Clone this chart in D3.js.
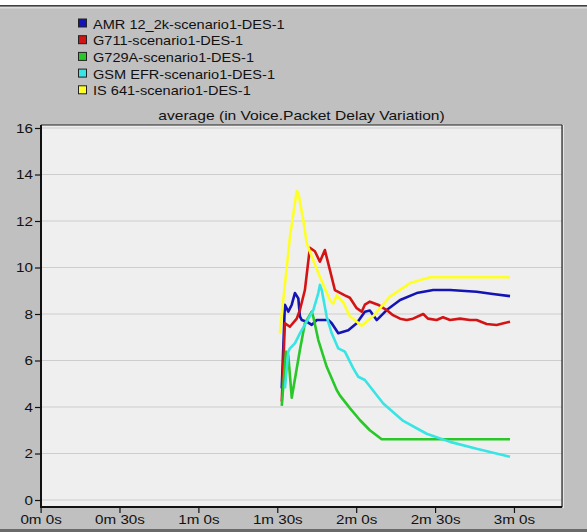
<!DOCTYPE html>
<html>
<head>
<meta charset="utf-8">
<script src="https://cdn.jsdelivr.net/npm/d3@7"></script>
<style>
  body { margin: 0; background: #c0c0c0; }
  svg { display: block; font-family: Arial, "Liberation Sans", sans-serif; }
</style>
</head>
<body>
<div id="chart"></div>
<script>
// series names + colours (legend order)
var seriesNames = ["AMR 12_2k-scenario1-DES-1", "G711-scenario1-DES-1", "G729A-scenario1-DES-1", "GSM EFR-scenario1-DES-1", "IS 641-scenario1-DES-1"]
var seriesColors = ["#1414b4", "#d41414", "#28c828", "#38e4e4", "#ffff28"]

// time in seconds
var amrTime = [91.7, 92.9, 94.2, 95.5, 96.7, 98.0, 98.6, 99.3, 101.2, 103.1, 105.0, 107.5, 109.4, 110.7, 113.2, 115.1, 117.0, 120.2, 123.3, 125.2, 127.8, 131.6, 136.7, 143.0, 149.3, 155.7, 165.8, 172.0, 178.5]
var amrValue = [4.8, 8.4, 8.1, 8.4, 8.9, 8.67, 7.9, 7.74, 7.67, 7.53, 7.74, 7.74, 7.74, 7.6, 7.17, 7.24, 7.3, 7.6, 8.1, 8.15, 7.74, 8.17, 8.6, 8.9, 9.03, 9.03, 8.96, 8.86, 8.77]

var g711Time = [91.7, 92.9, 94.8, 97.4, 98.6, 100.5, 102.4, 104.3, 106.2, 108.1, 110.0, 111.9, 115.7, 117.6, 120.2, 122.1, 123.3, 125.2, 128.3, 131.6, 134.0, 136.7, 139.2, 141.6, 145.5, 147.3, 150.6, 153.0, 155.7, 159.5, 163.3, 165.8, 169.6, 173.4, 177.2, 178.5]
var g711Value = [4.23, 7.6, 7.45, 7.8, 8.17, 9.03, 10.85, 10.7, 10.25, 10.75, 9.9, 9.03, 8.8, 8.7, 8.25, 8.1, 8.4, 8.53, 8.4, 8.17, 7.95, 7.8, 7.74, 7.8, 8.0, 7.8, 7.74, 7.86, 7.74, 7.8, 7.74, 7.74, 7.57, 7.53, 7.63, 7.67]

var g729Time = [91.7, 93.3, 94.2, 95.5, 98.6, 100.5, 103.1, 103.7, 105.6, 108.8, 112.6, 113.8, 117.6, 121.4, 125.2, 129.7, 178.5]
var g729Value = [4.05, 6.38, 6.2, 4.4, 6.45, 7.6, 8.1, 7.88, 6.88, 5.73, 4.73, 4.5, 3.95, 3.44, 3.0, 2.61, 2.61]

var gsmTime = [92.9, 94.2, 94.8, 96.7, 98.6, 101.2, 103.7, 105.6, 106.2, 106.9, 108.8, 110.7, 113.2, 115.7, 118.9, 120.8, 123.3, 130.3, 137.9, 146.8, 155.7, 165.8, 178.5]
var gsmValue = [4.8, 6.38, 6.52, 6.74, 7.17, 7.67, 8.17, 8.9, 9.25, 9.03, 7.88, 7.17, 6.52, 6.38, 5.66, 5.3, 5.16, 4.15, 3.4, 2.85, 2.5, 2.2, 1.86]

var is641Time = [91.0, 91.9, 94.8, 97.4, 98.0, 99.9, 101.2, 103.7, 106.2, 110.0, 111.3, 112.6, 115.1, 117.6, 122.1, 126.4, 132.8, 140.5, 148.1, 160.0, 178.5]
var is641Value = [7.17, 8.2, 11.3, 13.3, 13.2, 12.04, 11.04, 10.3, 9.6, 8.6, 8.45, 8.8, 8.5, 7.9, 7.5, 7.9, 8.75, 9.33, 9.58, 9.58, 9.58]

var yTicks = [0, 2, 4, 6, 8, 10, 12, 14, 16]
var xTicks = [0, 30, 60, 90, 120, 150, 180]
var xTickLabels = ["0m 0s", "0m 30s", "1m 0s", "1m 30s", "2m 0s", "2m 30s", "3m 0s"]
var chartTitle = "average (in Voice.Packet Delay Variation)"

var seriesData = [
    d3.zip(amrTime, amrValue),
    d3.zip(g711Time, g711Value),
    d3.zip(g729Time, g729Value),
    d3.zip(gsmTime, gsmValue),
    d3.zip(is641Time, is641Value)
]

var dimensions = {
    width: 587,
    height: 532,
    plot: {left: 41, right: 562, top: 125, bottom: 507},
    stretch: 1.17   // the screenshot's text is a bit wider than plain Arial
}

var svg = d3.select("#chart")
    .append("svg")
    .attr("width", dimensions.width)
    .attr("height", dimensions.height)

// window background + top strip
svg.append("rect").attr("width", dimensions.width).attr("height", dimensions.height).attr("fill", "#c0c0c0")
svg.append("rect").attr("width", dimensions.width).attr("height", 5).attr("fill", "#ffffff")
svg.append("rect").attr("y", 5).attr("width", dimensions.width).attr("height", 1.5).attr("fill", "#404040")
svg.append("rect").attr("y", 7).attr("width", dimensions.width).attr("height", 1.5).attr("fill", "#dcdcdc")
svg.append("rect").attr("y", 529).attr("width", dimensions.width).attr("height", 3).attr("fill", "#6a6a6a")

var p = dimensions.plot
var x = d3.scaleLinear().domain([0, 198]).range([40.6, 561.3])
var y = d3.scaleLinear().domain([0, 16]).range([500, 128])

// plot area
svg.append("rect")
    .attr("x", p.left).attr("y", p.top)
    .attr("width", p.right - p.left).attr("height", p.bottom - p.top)
    .attr("fill", "#efefef")

// grid lines
svg.append("g")
    .selectAll("line")
    .data(yTicks)
    .enter()
    .append("line")
    .attr("x1", p.left).attr("x2", p.right)
    .attr("y1", d => y(d)).attr("y2", d => y(d))
    .attr("stroke", "#cdcdcd")
    .attr("stroke-width", 1.2)

// lines
var line = d3.line()
    .x(d => x(d[0]))
    .y(d => y(d[1]))

svg.append("g")
    .selectAll("path")
    .data(seriesData)
    .enter()
    .append("path")
    .attr("d", line)
    .attr("fill", "none")
    .attr("stroke", (_, i) => seriesColors[i])
    .attr("stroke-width", 2.6)
    .attr("stroke-linejoin", "round")

// frame
svg.append("line").attr("x1", p.left).attr("x2", p.right).attr("y1", p.top).attr("y2", p.top).attr("stroke", "#222").attr("stroke-width", 1.2)
svg.append("line").attr("x1", p.right).attr("x2", p.right).attr("y1", p.top).attr("y2", p.bottom).attr("stroke", "#222").attr("stroke-width", 1.2)
svg.append("line").attr("x1", p.right + 1.5).attr("x2", p.right + 1.5).attr("y1", p.top).attr("y2", p.bottom + 1).attr("stroke", "#e4e4e4").attr("stroke-width", 1)
svg.append("line").attr("x1", p.left).attr("x2", p.left).attr("y1", p.top).attr("y2", p.bottom + 1).attr("stroke", "#111").attr("stroke-width", 2)
svg.append("line").attr("x1", p.left - 1).attr("x2", p.right).attr("y1", p.bottom).attr("y2", p.bottom).attr("stroke", "#111").attr("stroke-width", 2)

// axes
var yAxis = d3.axisLeft(y).tickValues(yTicks).tickSize(6).tickPadding(2)
var yg = svg.append("g").attr("transform", `translate(${p.left},0)`).call(yAxis)
yg.select(".domain").remove()

var xAxis = d3.axisBottom(x).tickValues(xTicks).tickSize(6).tickPadding(2).tickFormat((_, i) => xTickLabels[i])
var xg = svg.append("g").attr("transform", `translate(0,${p.bottom})`).call(xAxis)
xg.select(".domain").remove()

svg.selectAll(".tick line").attr("stroke", "#111").attr("stroke-width", 1.2)
svg.selectAll(".tick text").attr("fill", "#111").attr("font-size", "13px").attr("font-family", "Arial, 'Liberation Sans', sans-serif")

// widen the tick labels around their anchor point
yg.selectAll(".tick text").attr("transform", `translate(-8,0) scale(${dimensions.stretch},1) translate(8,0)`)
xg.selectAll(".tick text").attr("transform", `scale(${dimensions.stretch},1)`)

// title
svg.append("g")
    .attr("transform", `translate(${(p.left + p.right) / 2},120) scale(1.2,1)`)
    .append("text")
    .attr("text-anchor", "middle")
    .attr("font-size", "13px")
    .attr("fill", "#111")
    .text(chartTitle)

// legend
var legend = svg.append("g")
    .selectAll("g")
    .data(seriesNames)
    .enter()
    .append("g")
    .attr("transform", (_, i) => `translate(78,${23.5 + i * 16.7})`)

legend.append("rect")
    .attr("x", 0.5).attr("y", -4.5)
    .attr("width", 8).attr("height", 8)
    .attr("fill", (_, i) => seriesColors[i])
    .attr("stroke", "#222")
    .attr("stroke-width", 1)

legend.append("text")
    .attr("transform", "translate(15,5) scale(1.12,1)")
    .attr("font-size", "13px")
    .attr("fill", "#111")
    .text(d => d)
</script>
</body>
</html>
